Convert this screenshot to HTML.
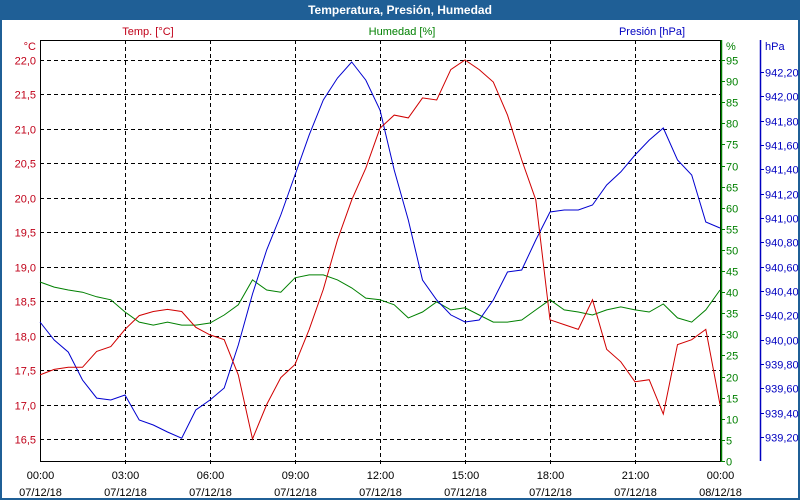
<!DOCTYPE html>
<html><head><meta charset="utf-8"><style>
html,body{margin:0;padding:0;background:#fff}
svg{display:block;font-family:"Liberation Sans",sans-serif}
</style></head><body>
<svg id="chart" width="800" height="500" viewBox="0 0 800 500">
<rect x="0" y="0" width="800" height="500" fill="#fff"/>
<rect x="0" y="0" width="800" height="20" fill="#1f5f96"/>
<rect x="1" y="1" width="798" height="498" fill="none" stroke="#1f5f96" stroke-width="2"/>
<text x="400" y="14" text-anchor="middle" fill="#fff" font-weight="bold" font-size="12">Temperatura, Presión, Humedad</text>
<text x="148" y="35" text-anchor="middle" fill="#c00018" font-size="11">Temp. [°C]</text>
<text x="402" y="35" text-anchor="middle" fill="#008000" font-size="11">Humedad [%]</text>
<text x="652" y="35" text-anchor="middle" fill="#0000c0" font-size="11">Presión [hPa]</text>
<text x="36" y="50" text-anchor="end" fill="#c00018" font-size="11">°C</text>
<text x="726" y="50" fill="#008000" font-size="11">%</text>
<text x="765" y="50" fill="#0000c0" font-size="11">hPa</text>
<g id="grid"></g>
<g id="axes"></g>
<g id="series"></g>
</svg>
<script>
const hours = [];
for (let i = 0; i <= 48; i++) hours.push(i * 0.5);
const tempValues = [17.43,17.51,17.54,17.54,17.77,17.84,18.09,18.29,18.35,18.38,18.35,18.12,18.01,17.94,17.43,16.5,17.0,17.39,17.58,18.09,18.67,19.39,19.97,20.43,21.01,21.20,21.16,21.45,21.42,21.86,22.0,21.86,21.68,21.2,20.55,19.97,18.23,18.16,18.09,18.52,17.8,17.62,17.33,17.36,16.86,17.87,17.94,18.09,17.0];
const humValues = [42.4,41.2,40.5,40.0,38.9,38.2,35.3,32.9,32.2,32.9,32.2,32.2,32.7,34.6,37.0,42.9,40.5,40.0,43.4,44.1,44.1,42.9,41.0,38.6,38.2,37.0,33.9,35.3,37.7,35.8,36.3,34.6,32.9,32.9,33.4,35.8,38.2,35.8,35.3,34.6,35.8,36.5,35.8,35.3,37.2,33.9,32.9,35.8,40.5];
const presValues = [940.145,939.997,939.898,939.668,939.52,939.504,939.545,939.34,939.299,939.241,939.19,939.422,939.504,939.603,939.956,940.375,940.737,941.024,941.353,941.682,941.969,942.15,942.281,942.133,941.887,941.394,940.983,940.49,940.326,940.203,940.145,940.161,940.326,940.556,940.572,940.819,941.049,941.065,941.065,941.106,941.271,941.378,941.517,941.64,941.739,941.476,941.353,940.967,940.917];
const timeLabels = ["00:00","03:00","06:00","09:00","12:00","15:00","18:00","21:00","00:00"];
const dateLabels = ["07/12/18","07/12/18","07/12/18","07/12/18","07/12/18","07/12/18","07/12/18","07/12/18","08/12/18"];
const tempTicks = [16.5,17.0,17.5,18.0,18.5,19.0,19.5,20.0,20.5,21.0,21.5,22.0];
const humTicks = [0,5,10,15,20,25,30,35,40,45,50,55,60,65,70,75,80,85,90,95];
const presTicks = [939.2,939.4,939.6,939.8,940.0,940.2,940.4,940.6,940.8,941.0,941.2,941.4,941.6,941.8,942.0,942.2];

const NS = "http://www.w3.org/2000/svg";
const L = 40, R = 720, T = 40, B = 461;
const xS = h => L + h / 24 * (R - L);
const yT = v => 60 + (22 - v) / 0.5 * 34.45;
const yH = v => 461 - v * 4.221;
const yP = v => 437 - (v - 939.2) * 121.7;
function mk(tag, attrs, parent) {
  const e = document.createElementNS(NS, tag);
  for (const k in attrs) e.setAttribute(k, attrs[k]);
  parent.appendChild(e);
  return e;
}
const grid = document.getElementById('grid');
const axes = document.getElementById('axes');
const series = document.getElementById('series');
const fmt = (v, d) => v.toFixed(d).replace('.', ',');

tempTicks.forEach(v => {
  const y = Math.round(yT(v)) + 0.5;
  const g = mk('line', {x1: L, x2: R, y1: y, y2: y, stroke: '#000', 'stroke-dasharray': '4,3'}, grid);
  
  
  const t = mk('text', {x: 36, y: y + 4, 'text-anchor': 'end', fill: '#c00018', 'font-size': 11}, axes);
  t.textContent = fmt(v, 1);
  
  
});
timeLabels.forEach((lab, i) => {
  const x = Math.round(xS(i * 3)) + 0.5;
  if (i > 0 && i < 8) {
    const g = mk('line', {x1: x, x2: x, y1: T, y2: B + 5, stroke: '#000', 'stroke-dasharray': '4,3'}, grid);
    
    
  }
  const t = mk('text', {x: x, y: 479, 'text-anchor': 'middle', fill: '#000', 'font-size': 11}, axes);
  t.textContent = lab;
  
  
  const d = mk('text', {x: x, y: 496, 'text-anchor': 'middle', fill: '#000', 'font-size': 11}, axes);
  d.textContent = dateLabels[i];
  
  
});
const box = mk('rect', {x: L + 0.5, y: T + 0.5, width: R - L, height: B - T, fill: 'none', stroke: '#000'}, axes);


const ga = mk('line', {x1: R + 1.5, x2: R + 1.5, y1: T, y2: B + 1, stroke: '#008000', 'stroke-width': 1.5}, axes);


humTicks.forEach(v => {
  const y = Math.round(yH(v)) + 0.5;
  const tk = mk('line', {x1: R + 2, x2: R + 5, y1: y, y2: y, stroke: '#008000'}, axes);
  
  
  const t = mk('text', {x: 726, y: y + 4, fill: '#008000', 'font-size': 11}, axes);
  t.textContent = String(v);
  
  
});
const pa = mk('line', {x1: 760.5, x2: 760.5, y1: T, y2: B, stroke: '#0000c0', 'stroke-width': 1.5}, axes);


presTicks.forEach(v => {
  const y = Math.round(yP(v)) + 0.5;
  const tk = mk('line', {x1: 761, x2: 764, y1: y, y2: y, stroke: '#0000c0'}, axes);
  
  
  const t = mk('text', {x: 765, y: y + 4, fill: '#0000c0', 'font-size': 11}, axes);
  t.textContent = fmt(v, 2);
  
  
});
function line(vals, yf, color, name) {
  const pts = vals.map((v, i) => xS(hours[i]).toFixed(1) + ',' + yf(v).toFixed(1)).join(' ');
  const p = mk('polyline', {points: pts, fill: 'none', stroke: color, 'stroke-width': 1}, series);
  
  
}
line(humValues, yH, '#008000', 'humidity-line');
line(presValues, yP, '#0000d0', 'pressure-line');
line(tempValues, yT, '#d00000', 'temperature-line');
</script>
</body></html>
